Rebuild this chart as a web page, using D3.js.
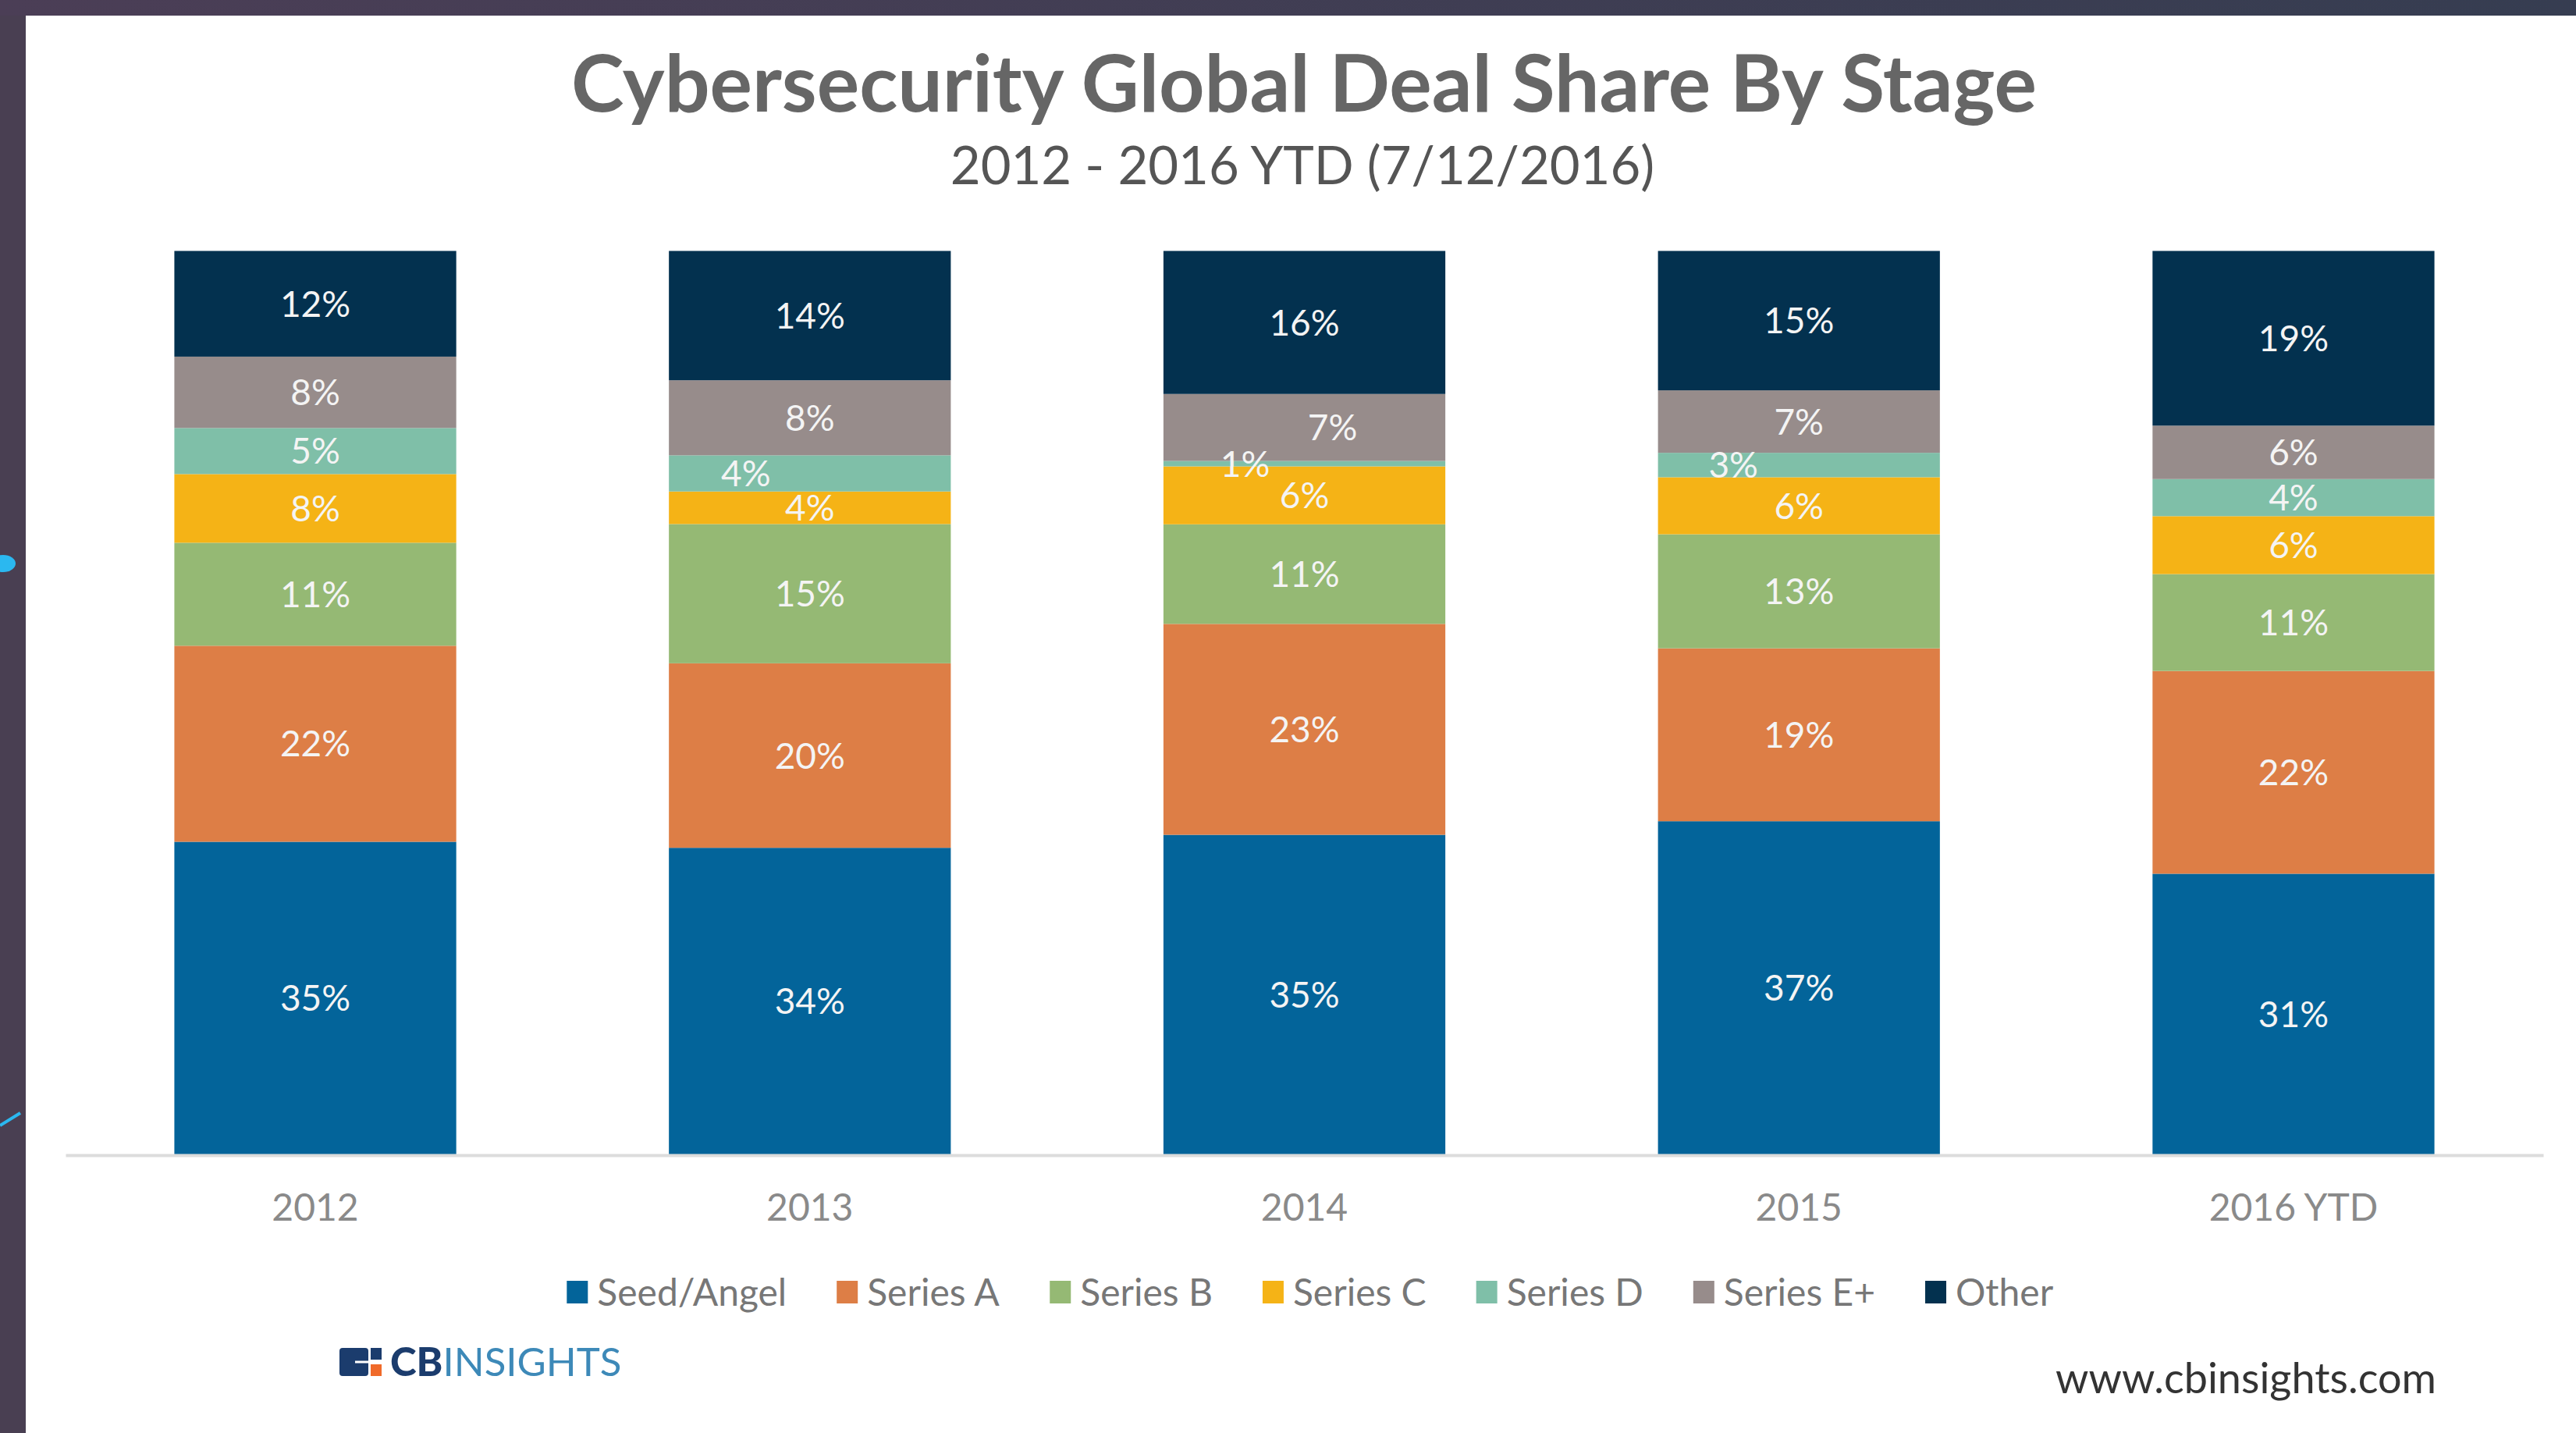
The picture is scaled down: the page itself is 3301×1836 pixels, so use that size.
<!DOCTYPE html>
<html lang="en">
<head>
<meta charset="UTF-8">
<title>Cybersecurity Global Deal Share By Stage</title>
<script src="https://d3js.org/d3.v7.min.js"></script>
<style>
  body { margin: 0; background: #fff; }
  svg { display: block; font-family: Lato, "Open Sans", sans-serif; }
</style>
</head>
<body>
<svg id="chart"></svg>
<script>
// years on the x axis
const years = ["2012", "2013", "2014", "2015", "2016 YTD"];
const stages = ["Seed/Angel", "Series A", "Series B", "Series C", "Series D", "Series E+", "Other"];

// share of deals (%) per stage
const seedAngel = [34.6, 33.9, 35.3, 36.8, 31.0];
const seriesA   = [21.7, 20.4, 23.3, 19.1, 22.4];
const seriesB   = [11.4, 15.4, 11.0, 12.6, 10.7];
const seriesC   = [7.6, 3.6, 6.4, 6.3, 6.4];
const seriesD   = [5.1, 4.0, 0.6, 2.7, 4.1];
const seriesE   = [7.9, 8.3, 7.4, 6.9, 5.9];
const other     = [11.7, 14.3, 15.8, 15.4, 19.3];

const colors = ["#03649a", "#dd7e46", "#95b974", "#f5b316", "#7fbfa8", "#978c8b", "#03314f"];

// labels that sit off-centre in the original
const nudge = {
  "2013|Series D": -82,
  "2014|Series D": -76,
  "2014|Series E+": 36,
  "2015|Series D": -84
};

const W = 3301, H = 1836;
const svg = d3.select("#chart").attr("width", W).attr("height", H);

// slide frame
const defs = svg.append("defs");
const grad = defs.append("linearGradient").attr("id", "band");
grad.append("stop").attr("offset", "0%").attr("stop-color", "#4b3e56");
grad.append("stop").attr("offset", "100%").attr("stop-color", "#363d51");
svg.append("rect").attr("width", W).attr("height", H).attr("fill", "#493f52");
svg.append("rect").attr("width", W).attr("height", 20).attr("fill", "url(#band)");
svg.append("rect").attr("x", 33).attr("y", 20).attr("width", W - 33).attr("height", H - 20).attr("fill", "#fff");
svg.append("ellipse").attr("cx", 4).attr("cy", 722).attr("rx", 16).attr("ry", 11).attr("fill", "#2bb8f0");
svg.append("line").attr("x1", 0).attr("y1", 1442).attr("x2", 26).attr("y2", 1426)
  .attr("stroke", "#2bb8f0").attr("stroke-width", 4);

// titles
svg.append("text").attr("x", 1671).attr("y", 143).attr("text-anchor", "middle")
  .attr("font-size", 102).attr("font-weight", 700).attr("fill", "#666")
  .text("Cybersecurity Global Deal Share By Stage");
svg.append("text").attr("x", 1669).attr("y", 236).attr("text-anchor", "middle")
  .attr("font-size", 67).attr("fill", "#555")
  .text("2012 - 2016 YTD (7/12/2016)");

const rows = years.map((y, i) => ({
  year: y,
  "Seed/Angel": seedAngel[i],
  "Series A": seriesA[i],
  "Series B": seriesB[i],
  "Series C": seriesC[i],
  "Series D": seriesD[i],
  "Series E+": seriesE[i],
  "Other": other[i]
}));

const stacked = d3.stack().keys(stages).offset(d3.stackOffsetExpand)(rows);
const segments = stacked.flatMap(s => s.map(p => ({ key: s.key, y0: p[0], y1: p[1], data: p.data })));

const x = d3.scaleBand().domain(years).range([84, 3259]).paddingInner(0.43).paddingOuter(0.22);
const y = d3.scaleLinear().domain([0, 1]).range([1479, 321.5]);
const color = d3.scaleOrdinal().domain(stages).range(colors);

svg.append("g").selectAll("rect")
  .data(segments)
  .join("rect")
  .attr("x", d => x(d.data.year))
  .attr("width", x.bandwidth())
  .attr("y", d => y(d.y1))
  .attr("height", d => y(d.y0) - y(d.y1))
  .attr("fill", d => color(d.key));

// value labels go on top of all bars
const fmt = d3.format(".0f");
svg.append("g").selectAll("text")
  .data(segments)
  .join("text")
  .attr("x", d => x(d.data.year) + x.bandwidth() / 2 + (nudge[d.data.year + "|" + d.key] || 0))
  .attr("y", d => (y(d.y0) + y(d.y1)) / 2)
  .attr("dy", "0.36em")
  .attr("text-anchor", "middle")
  .attr("font-size", 46)
  .attr("fill", "#f4f4f4")
  .text(d => fmt(d.data[d.key]) + "%");

// x axis
const axis = svg.append("g").attr("transform", "translate(0,1480)")
  .call(d3.axisBottom(x).tickSize(0).tickSizeOuter(0).tickPadding(50));
axis.select(".domain").attr("stroke", "#dcdcdc").attr("stroke-width", 4);
axis.selectAll("text").attr("font-size", 48).attr("fill", "#8a8a8a")
  .attr("font-family", "Lato, sans-serif");

// legend
const legend = svg.append("g").attr("transform", "translate(0,1673)");
const items = legend.selectAll("g").data(stages).join("g");
items.append("rect").attr("y", -32).attr("width", 27).attr("height", 29)
  .attr("fill", d => color(d));
items.append("text").attr("x", 39).attr("font-size", 48).attr("fill", "#777").text(d => d);
let widths = [];
items.each(function () { widths.push(this.getBBox().width); });
const gap = 64;
const total = d3.sum(widths) + gap * (widths.length - 1);
let cx = 1679 - total / 2;
items.attr("transform", (d, i) => {
  const t = `translate(${cx},0)`;
  cx += widths[i] + gap;
  return t;
});

// footer
const logo = svg.append("g");
logo.append("rect").attr("x", 435).attr("y", 1727).attr("width", 37).attr("height", 36).attr("rx", 4).attr("fill", "#1b3c6d");
logo.append("line").attr("x1", 455).attr("x2", 472).attr("y1", 1745).attr("y2", 1745).attr("stroke", "#fff").attr("stroke-width", 3);
logo.append("rect").attr("x", 475).attr("y", 1727).attr("width", 14).attr("height", 15).attr("fill", "#1b3c6d");
logo.append("rect").attr("x", 475).attr("y", 1748).attr("width", 14).attr("height", 15).attr("fill", "#f06a2a");
const brand = logo.append("text").attr("x", 500).attr("y", 1763).attr("font-size", 51);
brand.append("tspan").attr("font-weight", 900).attr("fill", "#1b3c6d").text("CB");
brand.append("tspan").attr("fill", "#3d89b8").text("INSIGHTS");

svg.append("text").attr("x", 3122).attr("y", 1785).attr("text-anchor", "end")
  .attr("font-size", 54).attr("fill", "#333")
  .text("www.cbinsights.com");
</script>
</body>
</html>
